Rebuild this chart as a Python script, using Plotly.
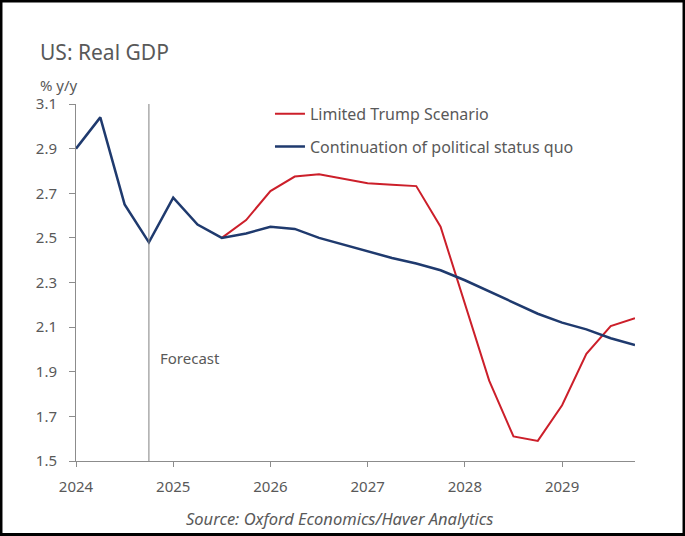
import plotly.graph_objects as go

# ---- data ----
quarters = ["2024Q1", "2024Q2", "2024Q3", "2024Q4",
            "2025Q1", "2025Q2", "2025Q3", "2025Q4",
            "2026Q1", "2026Q2", "2026Q3", "2026Q4",
            "2027Q1", "2027Q2", "2027Q3", "2027Q4",
            "2028Q1", "2028Q2", "2028Q3", "2028Q4",
            "2029Q1", "2029Q2", "2029Q3", "2029Q4"]
status_quo = [2.90, 3.04, 2.65, 2.48,
              2.68, 2.56, 2.50, 2.52,
              2.55, 2.54, 2.50, 2.47,
              2.44, 2.41, 2.385, 2.355,
              2.31, 2.26, 2.21, 2.16,
              2.12, 2.09, 2.05, 2.02]
trump_quarters = quarters[6:]
trump = [2.50, 2.58, 2.71, 2.775, 2.785, 2.765, 2.745, 2.738, 2.732, 2.55,
         2.21, 1.86, 1.61, 1.59, 1.75, 1.98, 2.105, 2.14]
year_ticks = [2024, 2025, 2026, 2027, 2028, 2029]
y_ticks = [1.5, 1.7, 1.9, 2.1, 2.3, 2.5, 2.7, 2.9, 3.1]
forecast_start = 2024.75


def q_to_num(q):
    return int(q[:4]) + (int(q[5]) - 1) / 4


x_all = [q_to_num(q) for q in quarters]
x_trump = [q_to_num(q) for q in trump_quarters]

FONT = "Noto Sans"
GRAY = "#595959"
RED = "#CC1F2A"
BLUE = "#1F3A6E"

fig = go.Figure()
fig.add_trace(go.Scatter(x=x_trump, y=trump, mode="lines", name="Limited Trump Scenario",
                         line=dict(color=RED, width=2), legendgroup="a"))
fig.add_trace(go.Scatter(x=x_all, y=status_quo, mode="lines",
                         name="Continuation of political status quo",
                         line=dict(color=BLUE, width=2.5), legendgroup="b"))

fig.add_shape(type="line", xref="x", yref="y", x0=forecast_start, x1=forecast_start,
              y0=1.5, y1=3.1, line=dict(color="#808080", width=1))

# outer frame
fig.add_shape(type="rect", xref="paper", yref="paper",
              x0=-0.1342, x1=1.0877, y0=-0.2059, y1=1.2885,
              line=dict(color="black", width=3), fillcolor="rgba(0,0,0,0)")

fig.add_annotation(x=forecast_start, y=1.96, xref="x", yref="y", text="Forecast",
                   showarrow=False, xanchor="left", xshift=9,
                   font=dict(family=FONT, size=15, color=GRAY))
fig.add_annotation(x=-0.068, y=1.1457, xref="paper", yref="paper", text="US: Real GDP",
                   showarrow=False, xanchor="left", yanchor="middle",
                   font=dict(family=FONT, size=21, color=GRAY))
fig.add_annotation(x=-0.068, y=1.053, xref="paper", yref="paper", text="% y/y",
                   showarrow=False, xanchor="left", yanchor="middle",
                   font=dict(family=FONT, size=15, color=GRAY))
fig.add_annotation(x=0.472, y=-0.1597, xref="paper", yref="paper",
                   text="<i>Source: Oxford Economics/Haver Analytics</i>",
                   showarrow=False, xanchor="center", yanchor="middle",
                   font=dict(family=FONT, size=16.5, color=GRAY))

fig.update_layout(
    width=685, height=536,
    margin=dict(l=76, r=50, t=104, b=75),
    paper_bgcolor="white", plot_bgcolor="white",
    font=dict(family=FONT, size=15, color=GRAY),
    showlegend=True,
    legend=dict(x=0.347, y=1.02, xanchor="left", yanchor="top",
                bgcolor="rgba(0,0,0,0)", tracegroupgap=9,
                font=dict(family=FONT, size=16, color=GRAY)),
    xaxis=dict(range=[2024, 2029.75], tickvals=year_ticks, ticktext=[str(y) for y in year_ticks],
               showgrid=False, zeroline=False, showline=True, linecolor="#8C8C8C", linewidth=1,
               ticks="outside", ticklen=5, tickcolor="#8C8C8C", ticklabelstandoff=7,
               tickfont=dict(family=FONT, size=15, color=GRAY)),
    yaxis=dict(range=[1.5, 3.1], tickvals=y_ticks, tickformat=".1f",
               showgrid=False, zeroline=False, showline=True, linecolor="#8C8C8C", linewidth=1,
               ticks="outside", ticklen=6, tickcolor="#8C8C8C", ticklabelstandoff=9,
               tickfont=dict(family=FONT, size=15, color=GRAY)),
)

fig.write_html("out.html", config={"displayModeBar": False},
               post_script="document.body.style.margin='0px';")
